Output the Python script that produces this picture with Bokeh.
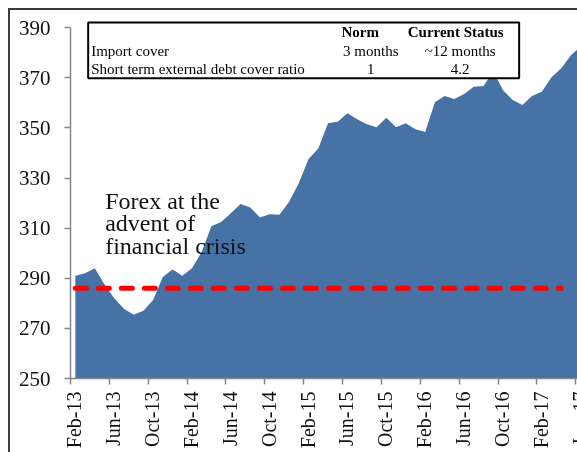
import numpy as np
from bokeh.plotting import figure
from bokeh.models import FixedTicker, Label, BoxAnnotation, Range1d
from bokeh.embed import file_html
from bokeh.resources import INLINE

# ---- data ----
FOREX = [291, 292, 294, 287.5, 282, 277.8, 275.4, 277, 281.3, 290.5, 293.5, 291,
         294, 300.5, 310.8, 312.5, 316, 319.7, 318.3, 314.3, 315.6, 315.4, 320.6, 328,
         337.6, 341.8, 351.9, 352.5, 355.9, 353.5, 351.5, 350.3, 354.1, 350.3, 351.9, 349.5,
         348.4, 360.3, 362.8, 361.6, 363.6, 366.5, 366.8, 372.5, 365.2, 361.2, 359.2, 362.8,
         364.5, 370.2, 373.8, 379, 382.5]          # Feb-13 .. Jun-17, monthly
TICK_LABELS = ["Feb-13", "Jun-13", "Oct-13", "Feb-14", "Jun-14", "Oct-14", "Feb-15",
               "Jun-15", "Oct-15", "Feb-16", "Jun-16", "Oct-16", "Feb-17", "Jun-17"]
Y_TICKS = [250, 270, 290, 310, 330, 350, 370, 390]
CRISIS_LEVEL = 286
CRISIS_LAST_MONTH = 50   # dashed reference line drawn up to Apr-17
TABLE_HEADER = ["Norm", "Current Status"]
TABLE_ROWS = ["Import cover", "Short term external debt cover ratio"]
TABLE_NORM = ["3 months", "1"]
TABLE_CURRENT = ["~12 months", "4.2"]
ANNOTATION = ["Forex at the", "advent of", "financial crisis"]

SERIF = "Liberation Serif"
X_END = 55.57
Y_TOP = 392.9
months = np.arange(len(FOREX)) + 0.5   # category centres
boundaries = [4 * k for k in range(len(TICK_LABELS))]
label_pos = [b + 0.4 for b in boundaries]

# the reference is a crop of a larger chart: the figure is pinned and runs past the window edge
p = figure(width=600, height=470, output_backend="svg", toolbar_location=None,
           x_range=Range1d(0, X_END), y_range=Range1d(Y_TICKS[0], Y_TOP),
           min_border_left=60, min_border_right=0, min_border_top=10, min_border_bottom=102)
p.outline_line_color = None
p.grid.visible = False
p.background_fill_color = "white"
p.border_fill_color = "white"
p.styles = {"border-left": "2px solid #3c3c3c", "border-top": "2px solid #3c3c3c",
            "position": "fixed", "left": "8px", "top": "8px"}

p.varea(x=months, y1=Y_TICKS[0], y2=FOREX, fill_color="#4672A6")
p.line(x=months[:CRISIS_LAST_MONTH + 1], y=[CRISIS_LEVEL] * (CRISIS_LAST_MONTH + 1),
       line_color="#FF0000", line_width=5, line_dash="11 12", line_cap="round")

for ax in (p.xaxis, p.yaxis):
    ax.axis_line_color = "#868686"
    ax.axis_line_width = 1.5
    ax.major_tick_line_color = "#868686"
    ax.major_tick_line_width = 1.5
    ax.major_tick_out = 6
    ax.major_tick_in = 0
    ax.major_label_text_font = SERIF
    ax.major_label_text_font_size = "20px"
    ax.major_label_text_color = "#111111"

p.yaxis.ticker = FixedTicker(ticks=Y_TICKS)
p.yaxis.bounds = (Y_TICKS[0], Y_TICKS[-1])
p.yaxis.minor_tick_line_color = None
p.yaxis.major_label_text_font_size = "21px"
p.yaxis.major_label_standoff = 14

# labels sit just right of the category-boundary ticks (drawn as minor ticks)
p.xaxis.ticker = FixedTicker(ticks=label_pos, minor_ticks=boundaries)
p.xaxis.major_tick_line_color = None
p.xaxis.minor_tick_line_color = "#868686"
p.xaxis.minor_tick_line_width = 1.5
p.xaxis.minor_tick_out = 6
p.xaxis.minor_tick_in = 0
p.xaxis.major_label_overrides = {t: lab for t, lab in zip(label_pos, TICK_LABELS)}
p.xaxis.major_label_orientation = np.pi / 2
p.xaxis.major_label_standoff = 7

# annotation text
for k, line in enumerate(ANNOTATION):
    p.add_layout(Label(x=3.57, y=320.9 - 9.0 * k, text=line, text_font=SERIF,
                       text_font_size="24px", text_color="#111111",
                       text_baseline="alphabetic", text_align="left"))

# table inset
p.add_layout(BoxAnnotation(left=1.82, right=46.17, bottom=369.8, top=392.1,
                           fill_color="white", fill_alpha=1.0,
                           line_color="black", line_alpha=1.0, line_width=2))
row_y = [380.9, 373.6]
for k, name in enumerate(TABLE_HEADER):
    p.add_layout(Label(x=[29.81, 39.64][k], y=388.2, text=name, text_font=SERIF,
                       text_font_size="15px", text_font_style="bold",
                       text_align="center", text_baseline="alphabetic", text_color="black"))
for k in range(len(TABLE_ROWS)):
    p.add_layout(Label(x=2.13, y=row_y[k], text=TABLE_ROWS[k], text_font=SERIF,
                       text_font_size="15px", text_align="left",
                       text_baseline="alphabetic", text_color="black"))
    p.add_layout(Label(x=30.9, y=row_y[k], text=TABLE_NORM[k], text_font=SERIF,
                       text_font_size="15px", text_align="center",
                       text_baseline="alphabetic", text_color="black"))
    p.add_layout(Label(x=40.1, y=row_y[k], text=TABLE_CURRENT[k], text_font=SERIF,
                       text_font_size="15px", text_align="center",
                       text_baseline="alphabetic", text_color="black"))

open("out.html", "w").write(file_html(p, INLINE))
